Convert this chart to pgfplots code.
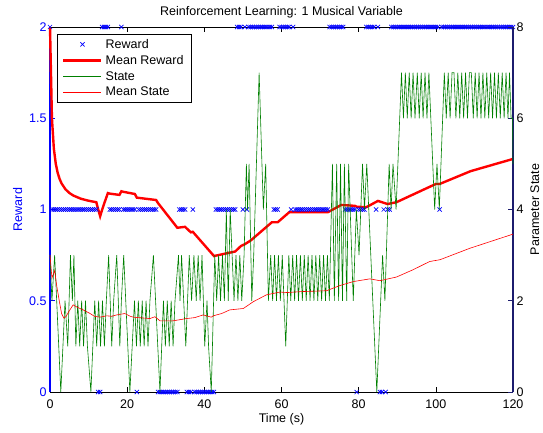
\documentclass[border=0pt]{standalone}
\usepackage{fontspec}
\setmainfont{Liberation Sans}
\usepackage{pgfplots}
\pgfplotsset{compat=1.18}
\usetikzlibrary{calc}
\definecolor{mblue}{RGB}{0,0,255}
\definecolor{mgreen}{RGB}{0,128,0}
\definecolor{mred}{RGB}{255,0,0}
\definecolor{navy}{RGB}{28,28,110}
\begin{document}
\begin{tikzpicture}
\pgfplotsset{
 every axis/.append style={font=\fontsize{12.5}{15}\selectfont},
 /pgf/number format/assume math mode=true,
 legend image code/.code={\draw[mark repeat=2,mark phase=2,#1] plot coordinates {(0pt,0pt) (19pt,0pt) (38pt,0pt)};},
}
\begin{axis}[name=ax1, scale only axis, width=463pt, height=365pt,
 xmin=0, xmax=120, ymin=0, ymax=2, clip=false,
 separate axis lines, axis x line*=box, axis y line*=left,
 x axis line style={black, line width=0.9pt, -},
 y axis line style={mblue, line width=1.2pt, -},
 xtick={0,20,...,120}, ytick={0,0.5,1,1.5,2},
 tick align=inside, major tick length=5pt,
 xtick style={black, line width=0.6pt}, ytick style={mblue, line width=0.6pt},
 yticklabel style={mblue},
 xticklabel style={yshift=-4pt},
 ylabel={Reward}, ylabel style={mblue},
 xlabel={Time (s)}, xlabel style={yshift=2pt},
 title={Reinforcement Learning: 1 Musical Variable}, title style={yshift=-1pt},
]
\addplot[only marks, mark=x, mark size=3pt, mblue, mark options={line width=0.7pt}] coordinates {
(0,2) (13.5,2) (14,2) (14.5,2) (15,2) (18.5,2) (48.5,2) (49,2) (49.5,2) (50.5,2) (51.5,2)
(52,2) (52.5,2) (53,2) (53.5,2) (54,2) (54.5,2) (55,2) (55.5,2) (56,2) (56.5,2) (57,2) (57.5,2)
(59.5,2) (60,2) (60.5,2) (61,2) (61.5,2) (62,2) (63,2)
(72.5,2) (73,2) (73.5,2) (74,2) (74.5,2) (75,2) (75.5,2) (76,2)
(82,2) (82.5,2) (83,2) (83.5,2) (84,2) (85,2)
(88.5,2) (89,2) (89.5,2) (90,2) (90.5,2) (91,2) (91.5,2) (92,2) (92.5,2) (93,2) (93.5,2) (94,2)
(94.5,2) (95,2) (95.5,2) (96,2) (96.5,2) (97,2) (97.5,2) (98,2) (98.5,2) (99,2) (99.5,2) (100,2) (100.5,2)
(101.5,2) (102,2) (102.5,2) (103,2) (103.5,2) (104,2) (104.5,2) (105,2) (105.5,2) (106,2) (106.5,2)
(107,2) (107.5,2) (108,2) (108.5,2) (109,2) (109.5,2) (110,2) (110.5,2) (111,2) (111.5,2) (112,2)
(112.5,2) (113,2) (113.5,2) (114,2) (114.5,2) (115,2) (115.5,2) (116,2) (116.5,2) (117,2) (117.5,2)
(118,2) (118.5,2) (119,2) (119.5,2) (120,2)
(12.5,0) (13,0) (22.5,0) (28,0) (28.5,0) (29,0) (29.5,0) (30,0) (30.5,0) (31,0) (31.5,0) (32,0) (32.5,0) (33,0)
(35.5,0) (36,0) (36.5,0) (37.5,0) (38,0) (38.5,0) (39,0) (39.5,0) (40,0) (40.5,0) (41,0) (41.5,0) (42,0) (42.5,0)
(79.5,0) (85.5,0) (86,0) (87,0)
(0.5,1) (1,1) (1.5,1) (2,1) (2.5,1) (3,1) (3.5,1) (4,1) (4.5,1) (5,1) (5.5,1) (6,1) (6.5,1) (7,1) (7.5,1) (8,1)
(8.5,1) (9,1) (9.5,1) (10,1) (10.5,1) (11,1) (11.5,1) (12,1)
(15.5,1) (16,1) (16.5,1) (17,1) (17.5,1) (18,1)
(19,1) (19.5,1) (20,1) (20.5,1) (21,1) (21.5,1) (22,1)
(23,1) (23.5,1) (24,1) (24.5,1) (25,1) (25.5,1) (26,1) (26.5,1) (27,1) (27.5,1)
(33.5,1) (34,1) (34.5,1) (35,1) (37,1)
(43,1) (43.5,1) (44,1) (44.5,1) (45,1) (45.5,1) (46,1) (46.5,1) (47,1) (47.5,1) (48,1)
(50,1) (51,1) (58,1) (58.5,1) (59,1) (62.5,1)
(63.5,1) (64,1) (64.5,1) (65,1) (65.5,1) (66,1) (66.5,1) (67,1) (67.5,1) (68,1) (68.5,1) (69,1)
(69.5,1) (70,1) (70.5,1) (71,1) (71.5,1) (72,1)
(76.5,1) (77,1) (77.5,1) (78,1) (78.5,1) (79,1) (80,1) (80.5,1) (81,1) (81.5,1)
(84.5,1) (86.5,1) (87.5,1) (88,1) (101,1)
};
\addplot[mred, line width=2.4pt] coordinates {
(0,2) (0.5,1.5) (1,1.333) (1.5,1.25) (2,1.2) (2.5,1.167) (3,1.143) (4,1.111) (5,1.091) (6,1.077)
(8,1.059) (10,1.048) (12,1.04) (12.5,1.0) (13,0.963) (13.5,0.998) (14,1.03) (14.5,1.06) (15,1.09)
(15.5,1.087) (18,1.08) (18.5,1.1) (19,1.097) (22,1.085) (22.5,1.065) (27.5,1.052) (28,1.035)
(33,0.90) (35,0.905) (36.5,0.875) (37,0.878) (42.5,0.745) (48,0.77) (49.5,0.80) (50.5,0.81)
(52,0.83) (57.5,0.93) (59,0.93) (62,0.985) (72,0.985) (75.5,1.025) (79,1.02) (79.5,1.015)
(82,1.013) (85,1.047) (87.5,1.03) (89.8,1.04) (100,1.14) (101,1.14) (109,1.21) (120,1.277)
};
\end{axis}
\begin{axis}[scale only axis, width=463pt, height=365pt,
 xmin=0, xmax=120, ymin=0, ymax=8, clip=false,
 axis y line*=right, axis x line=none,
 y axis line style={navy, line width=1.2pt, -},
 ytick={0,2,4,6,8}, ytick style={navy, line width=0.6pt},
 tick align=inside, major tick length=5pt,
 ylabel={Parameter State},
 legend style={at={(0.0151,0.981)}, anchor=north west, draw=black, line width=0.6pt,
   fill=white, font=\fontsize{12.5}{15}\selectfont, inner xsep=5pt, inner ysep=2pt,
   nodes={inner xsep=3pt, inner ysep=2.8pt}},
 legend cell align=left,
]
\addlegendimage{only marks, mark=x, mark size=3pt, mblue, mark options={line width=0.7pt}}
\addlegendimage{mred, line width=2.4pt}
\addplot[mgreen, line width=0.6pt] table {
t s
0 3
0.5 2
1.2 3
2.8 0
3.9 2
4.6 1
5.3 3
5.8 2
6.2 3
6.7 1
7.2 2
7.7 1
8.2 2
8.7 1
9.2 2
9.7 1
10.6 0
11.6 2
12.1 1
12.6 2
13.1 1
13.6 2
14.1 1
14.6 2
15.2 3
16.0 1
16.5 2
17.3 3
18.1 1
18.5 2
19.1 3
20.7 0
21.9 2
22.4 1
22.9 2
23.4 1
23.9 2
24.4 1
24.9 2
25.4 1
25.9 2
26.8 3
28.5 0
29.4 2
29.9 1
30.4 2
30.9 1
31.4 2
31.9 1
32.4 2
33.3 3
33.7 2
34.1 3
35.2 1
36.1 3
36.7 2
37.3 3
37.9 2
38.4 3
38.9 2
39.4 3
40.1 1
40.7 2
41.1 1
41.8 0
42.7 3
43.2 2
43.7 3
44.2 2
44.7 3
45.2 2
45.7 4
46.2 2
46.7 4
47.2 3
47.7 2
48.2 3
48.7 2
49.2 3
49.7 2
50.3 3
50.9 5
51.2 4
51.6 5
52.3 2
52.8 3
54.2 7
55.3 4
55.9 5
56.6 2
57.2 3
57.7 2
58.2 3
58.7 2
59.2 3
59.7 2
60.2 3
61.1 1
61.9 3
62.4 2
62.9 3
63.4 2
63.9 3
64.4 2
64.9 3
65.4 2
65.9 3
66.4 2
66.9 3
67.4 2
67.9 3
68.4 2
68.9 3
69.4 2
69.9 3
70.4 2
70.9 3
71.4 2
71.9 3
72.4 2
73.2 5
73.7 2
74.3 5
74.8 2
75.3 5
75.8 2
76.3 5
76.9 2
77.4 5
78.6 2
79.4 4
80.1 3
81.0 5
81.5 4
82.1 5
84.7 0
86.2 3
86.8 2
87.9 5
88.4 4
88.9 5
89.7 4
91.1 7
91.6 6
92.1 7
92.6 6
93.1 7
93.6 6
94.1 7
94.6 6
95.2 7
95.7 6
96.2 7
96.7 6
97.2 7
97.7 6
98.2 7
99.7 4
100.3 5
100.9 4
102.2 7
102.7 6
103.2 7
103.7 6
104.2 7
104.7 7
105.2 6
105.7 7
106.2 6
106.7 7
107.2 6
107.7 7
108.2 6
108.7 7
109.2 7
109.7 6
110.2 7
110.7 6
111.2 7
111.7 6
112.2 7
112.7 6
113.2 7
113.7 6
114.2 7
114.7 6
115.2 7
115.7 6
116.2 7
116.7 6
117.2 7
117.7 6
118.2 7
118.7 6
119.1 7
119.5 6
119.9 6
120 5
};
\addplot[mred, line width=0.6pt] coordinates {
(0,3) (0.5,2.5) (1.2,2.66) (1.8,2.3) (2.4,2.0) (3.0,1.72) (3.6,1.62) (4.1,1.65) (5.0,1.78) (6.0,1.91)
(7.0,1.86) (8.6,1.80) (10.4,1.72) (11.5,1.66) (12.9,1.64) (14.7,1.67) (16.0,1.66) (17.3,1.69)
(19.4,1.72) (20.8,1.66) (21.6,1.64) (25.9,1.61) (27.2,1.65) (28.5,1.56) (31.9,1.56) (35.4,1.61)
(37.5,1.63) (39.7,1.69) (41.8,1.64) (42.3,1.67) (44.5,1.72) (46.6,1.80) (50.1,1.83) (52.7,1.98)
(56.1,2.13) (59.6,2.19) (61.5,2.18) (65,2.2) (71.7,2.22) (75,2.33) (78.6,2.42) (82.9,2.48)
(85.5,2.44) (89.8,2.52) (94.1,2.68) (98.4,2.86) (101.1,2.9) (108.8,3.15) (120,3.46)
};
\legend{Reward, Mean Reward, State, Mean State}
\end{axis}
\pgfresetboundingbox
\path ($(ax1.south west)+(-50pt,-40pt)$) rectangle ($(ax1.north east)+(30pt,27pt)$);
\end{tikzpicture}
\end{document}
